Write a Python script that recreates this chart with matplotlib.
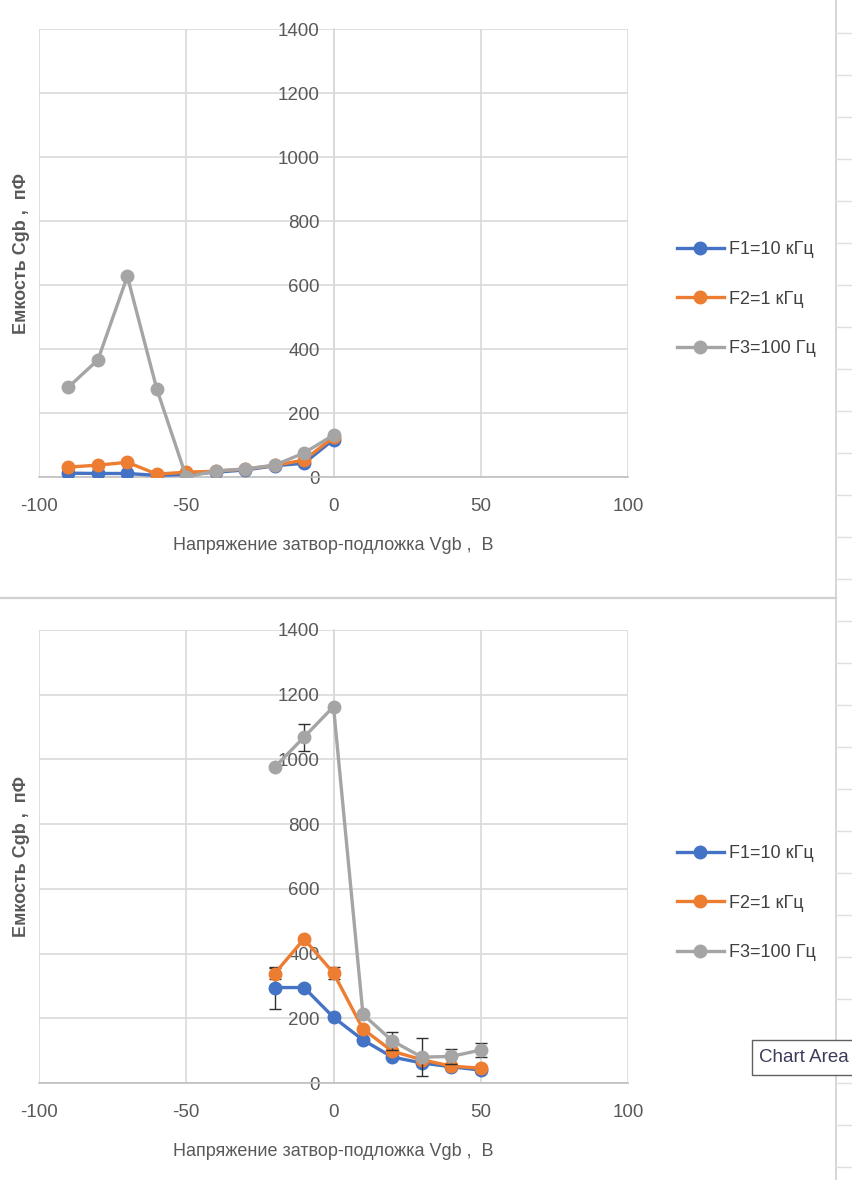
import matplotlib
matplotlib.use("Agg")
from matplotlib import pyplot as plt
from matplotlib.lines import Line2D

# --- данные ---
legendes = ["F1=10 кГц", "F2=1 кГц", "F3=100 Гц"]
couleurs = ["#4472C4", "#ED7D31", "#A5A5A5"]

# верхний график
x_haut = [-90, -80, -70, -60, -50, -40, -30, -20, -10, 0]
f1_haut = [12, 11, 11, 5, 8, 15, 22, 35, 43, 117]
f2_haut = [31, 37, 46, 9, 15, 18, 25, 36, 53, 124]
f3_haut = [281, 366, 627, 275, 0, 19, 25, 37, 75, 131]

# нижний график
x_bas = [-20, -10, 0, 10, 20, 30, 40, 50]
f1_bas = [295, 295, 203, 133, 80, 62, 50, 40]
f2_bas = [338, 445, 340, 167, 98, 72, 52, 46]
f3_bas = [976, 1069, 1163, 212, 130, 80, 82, 102]
err1_bas = [65, 8, 0, 0, 0, 0, 0, 0]
err2_bas = [18, 0, 18, 0, 0, 0, 0, 0]
err3_bas = [0, 42, 0, 0, 27, 58, 23, 22]

x_ticks = [-100, -50, 0, 50, 100]
y_ticks = [0, 200, 400, 600, 800, 1000, 1200, 1400]
titre_x = "Напряжение затвор-подложка Vgb ,  В"
titre_y = "Емкость Cgb ,  пФ"

plt.rcParams['font.family'] = ['Liberation Sans Narrow', 'Liberation Sans', 'DejaVu Sans']
plt.rcParams['axes.unicode_minus'] = False

fig = plt.figure(figsize=(8.52, 11.8), dpi=100)
fig.patch.set_facecolor("white")


def dessiner(ax, x, series, erreurs):
    for i, y in enumerate(series):
        if erreurs is not None and any(erreurs[i]):
            ax.errorbar(x, y, yerr=erreurs[i], fmt="none", ecolor="#303030",
                        elinewidth=1, capsize=4, capthick=1, zorder=2 + i)
        ax.plot(x, y, "-o", color=couleurs[i], lw=2.4, ms=9,
                label=legendes[i], zorder=3 + i)
    ax.set_xlim(-100, 100)
    ax.set_ylim(0, 1400)
    ax.set_xticks(x_ticks)
    ax.set_yticks(y_ticks)
    ax.grid(True, color="#d9d9d9", lw=1.2)
    ax.set_axisbelow(True)
    for s in ["top", "right"]:
        ax.spines[s].set_visible(False)
    ax.spines["left"].set_position(("data", 0))
    ax.spines["left"].set_color("#d9d9d9")
    ax.spines["left"].set_linewidth(1.2)
    ax.spines["bottom"].set_color("#bfbfbf")
    ax.spines["bottom"].set_linewidth(1.2)
    ax.tick_params(axis="both", length=0, labelsize=13.5, colors="#595959")
    ax.tick_params(axis="x", pad=15)
    ax.tick_params(axis="y", pad=10)
    ax.set_xlabel(titre_x, fontsize=13, color="#595959", labelpad=16)
    ax.text(-0.03, 0.5, titre_y, transform=ax.transAxes, rotation=90,
            ha="center", va="center", fontsize=13, color="#595959",
            fontweight="bold")
    leg = ax.legend(loc="center left", bbox_to_anchor=(1.055, 0.397), frameon=False,
                    fontsize=13, labelspacing=1.8, handlelength=2.6,
                    handletextpad=0.3)
    for t in leg.get_texts():
        t.set_color("#404040")


ax1 = fig.add_axes([39 / 852, 1 - 477 / 1180, 589 / 852, 448 / 1180])
dessiner(ax1, x_haut, [f1_haut, f2_haut, f3_haut], None)

ax2 = fig.add_axes([39 / 852, 1 - 1083 / 1180, 589 / 852, 453 / 1180])
dessiner(ax2, x_bas, [f1_bas, f2_bas, f3_bas], [err1_bas, err2_bas, err3_bas])

# рамки листа Excel
fig.add_artist(Line2D([0, 836 / 852], [1 - 598 / 1180] * 2, color="#d0d0d0", lw=1.6))
fig.add_artist(Line2D([836 / 852] * 2, [0, 1], color="#d0d0d0", lw=1.2))
for k in range(28):
    yy = 1 - (33 + 42 * k) / 1180
    if yy > 0:
        fig.add_artist(Line2D([836 / 852, 1], [yy, yy], color="#e0e0e0", lw=1))

# всплывающая подсказка (рамка уходит за правый край, как на снимке)
fig.add_artist(plt.Rectangle((752 / 852, 1 - 1075 / 1180), 120 / 852, 35 / 1180,
                             transform=fig.transFigure, fc="white", ec="#606060",
                             lw=1, zorder=5))
fig.text(759 / 852, 1 - 1057 / 1180, "Chart Area", fontsize=13.5, color="#3c3c5a",
         va="center", ha="left", family=['Liberation Sans', 'DejaVu Sans'], zorder=6)

fig.savefig("out.png", dpi=100)
